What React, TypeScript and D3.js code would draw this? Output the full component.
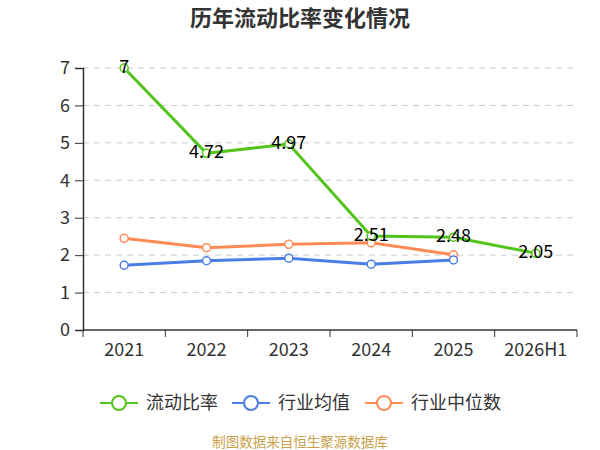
import * as d3 from 'd3'
import {useRef, useEffect} from 'react'

const categories = ['2021', '2022', '2023', '2024', '2025', '2026H1']
const currentRatio = [7, 4.72, 4.97, 2.51, 2.48, 2.05]
const industryMean = [1.73, 1.85, 1.92, 1.76, 1.87]
const industryMedian = [2.45, 2.2, 2.29, 2.33, 2.01]
const yTicks = [0, 1, 2, 3, 4, 5, 6, 7]

const seriesNames = ['流动比率', '行业均值', '行业中位数']
const colors = ['#52c41a', '#4a7ee6', '#ff8a55']

const width = 600
const height = 450
const margin = {left: 83, right: 23, top: 68, bottom: 120}
const font = '"Noto Sans CJK SC", "Noto Sans", sans-serif'

export default function App() {
  const svgRef = useRef(null)

  const draw = (): void => {
    const svg = d3.select(svgRef.current)
    svg.selectAll('*').remove()

    const x = d3.scaleBand()
      .domain(categories)
      .range([margin.left, width - margin.right])
    const y = d3.scaleLinear()
      .domain([0, 7])
      .range([height - margin.bottom, margin.top])
    const cx = (c: string) => x(c)! + x.bandwidth() / 2

    // title
    svg.append('text')
      .attr('x', width / 2)
      .attr('y', 26)
      .attr('text-anchor', 'middle')
      .attr('font-family', font)
      .attr('font-size', 22)
      .attr('font-weight', 'bold')
      .attr('fill', '#333')
      .text('历年流动比率变化情况')

    // grid
    svg.append('g')
      .selectAll('line')
      .data(yTicks.filter(t => t > 0))
      .enter()
      .append('line')
      .attr('x1', margin.left)
      .attr('x2', width - margin.right)
      .attr('y1', d => y(d))
      .attr('y2', d => y(d))
      .attr('stroke', '#ccc')
      .attr('stroke-dasharray', '6,5')

    // y axis
    const yAxis = d3.axisLeft(y).tickValues(yTicks).tickFormat(d3.format('d')).tickSize(8).tickPadding(5)
    const gy = svg.append('g')
      .attr('transform', `translate(${margin.left},0)`)
      .call(yAxis)
    gy.select('.domain').attr('stroke', '#333').attr('stroke-width', 1.5)
    gy.selectAll('.tick line').attr('stroke', '#333')
    gy.selectAll('.tick text')
      .attr('font-family', font)
      .attr('font-size', 18)
      .attr('fill', '#333')

    // x axis
    const xb = height - margin.bottom
    const gx = svg.append('g')
      .attr('transform', `translate(0,${xb})`)
    gx.append('line')
      .attr('x1', margin.left)
      .attr('x2', width - margin.right)
      .attr('stroke', '#333')
      .attr('stroke-width', 1.5)
    const bounds = categories.map(c => x(c)!).concat([width - margin.right])
    gx.selectAll('line.tk')
      .data(bounds)
      .enter()
      .append('line')
      .attr('class', 'tk')
      .attr('x1', d => d)
      .attr('x2', d => d)
      .attr('y1', 0)
      .attr('y2', 7)
      .attr('stroke', '#333')
    gx.selectAll('text')
      .data(categories)
      .enter()
      .append('text')
      .attr('x', d => cx(d))
      .attr('y', 26)
      .attr('text-anchor', 'middle')
      .attr('font-family', font)
      .attr('font-size', 18)
      .attr('fill', '#333')
      .text(d => d)

    const seriesData = [currentRatio, industryMean, industryMedian]
    const line = d3.line<number>()
      .x((d, i) => cx(categories[i]))
      .y(d => y(d))

    // draw median, mean, then ratio on top
    ;[2, 1, 0].forEach(si => {
      const vals = seriesData[si]
      const g = svg.append('g')
      g.append('path')
        .datum(vals)
        .attr('d', line)
        .attr('fill', 'none')
        .attr('stroke', colors[si])
        .attr('stroke-width', 3)
      g.selectAll('circle')
        .data(vals)
        .enter()
        .append('circle')
        .attr('cx', (d, i) => cx(categories[i]))
        .attr('cy', d => y(d))
        .attr('r', 4)
        .attr('fill', '#fff')
        .attr('stroke', colors[si])
        .attr('stroke-width', 1.5)
    })

    // labels for current ratio
    svg.append('g')
      .selectAll('text')
      .data(currentRatio)
      .enter()
      .append('text')
      .attr('x', (d, i) => cx(categories[i]))
      .attr('y', d => y(d) + 5)
      .attr('text-anchor', 'middle')
      .attr('font-family', font)
      .attr('font-size', 18)
      .attr('fill', '#000')
      .text(d => String(d))

    // legend
    const legendX = [100, 232, 365]
    const ly = 403
    seriesNames.forEach((name, i) => {
      const g = svg.append('g').attr('transform', `translate(${legendX[i]},${ly})`)
      g.append('line')
        .attr('x1', 0)
        .attr('x2', 38)
        .attr('stroke', colors[i])
        .attr('stroke-width', 2)
      g.append('circle')
        .attr('cx', 19)
        .attr('r', 7)
        .attr('fill', '#fff')
        .attr('stroke', colors[i])
        .attr('stroke-width', 2)
      g.append('text')
        .attr('x', 46)
        .attr('y', 6)
        .attr('font-family', font)
        .attr('font-size', 18)
        .attr('fill', '#333')
        .text(name)
    })

    // source
    svg.append('text')
      .attr('x', width / 2)
      .attr('y', 447)
      .attr('text-anchor', 'middle')
      .attr('font-family', font)
      .attr('font-size', 13.5)
      .attr('fill', '#c9a14a')
      .text('制图数据来自恒生聚源数据库')
  }

  useEffect((): void => draw(), [])

  return (
    <svg ref={svgRef} width={width} height={height}
      style={{position: 'absolute', left: 0, top: 0, background: '#fff'}}></svg>
  )
}
